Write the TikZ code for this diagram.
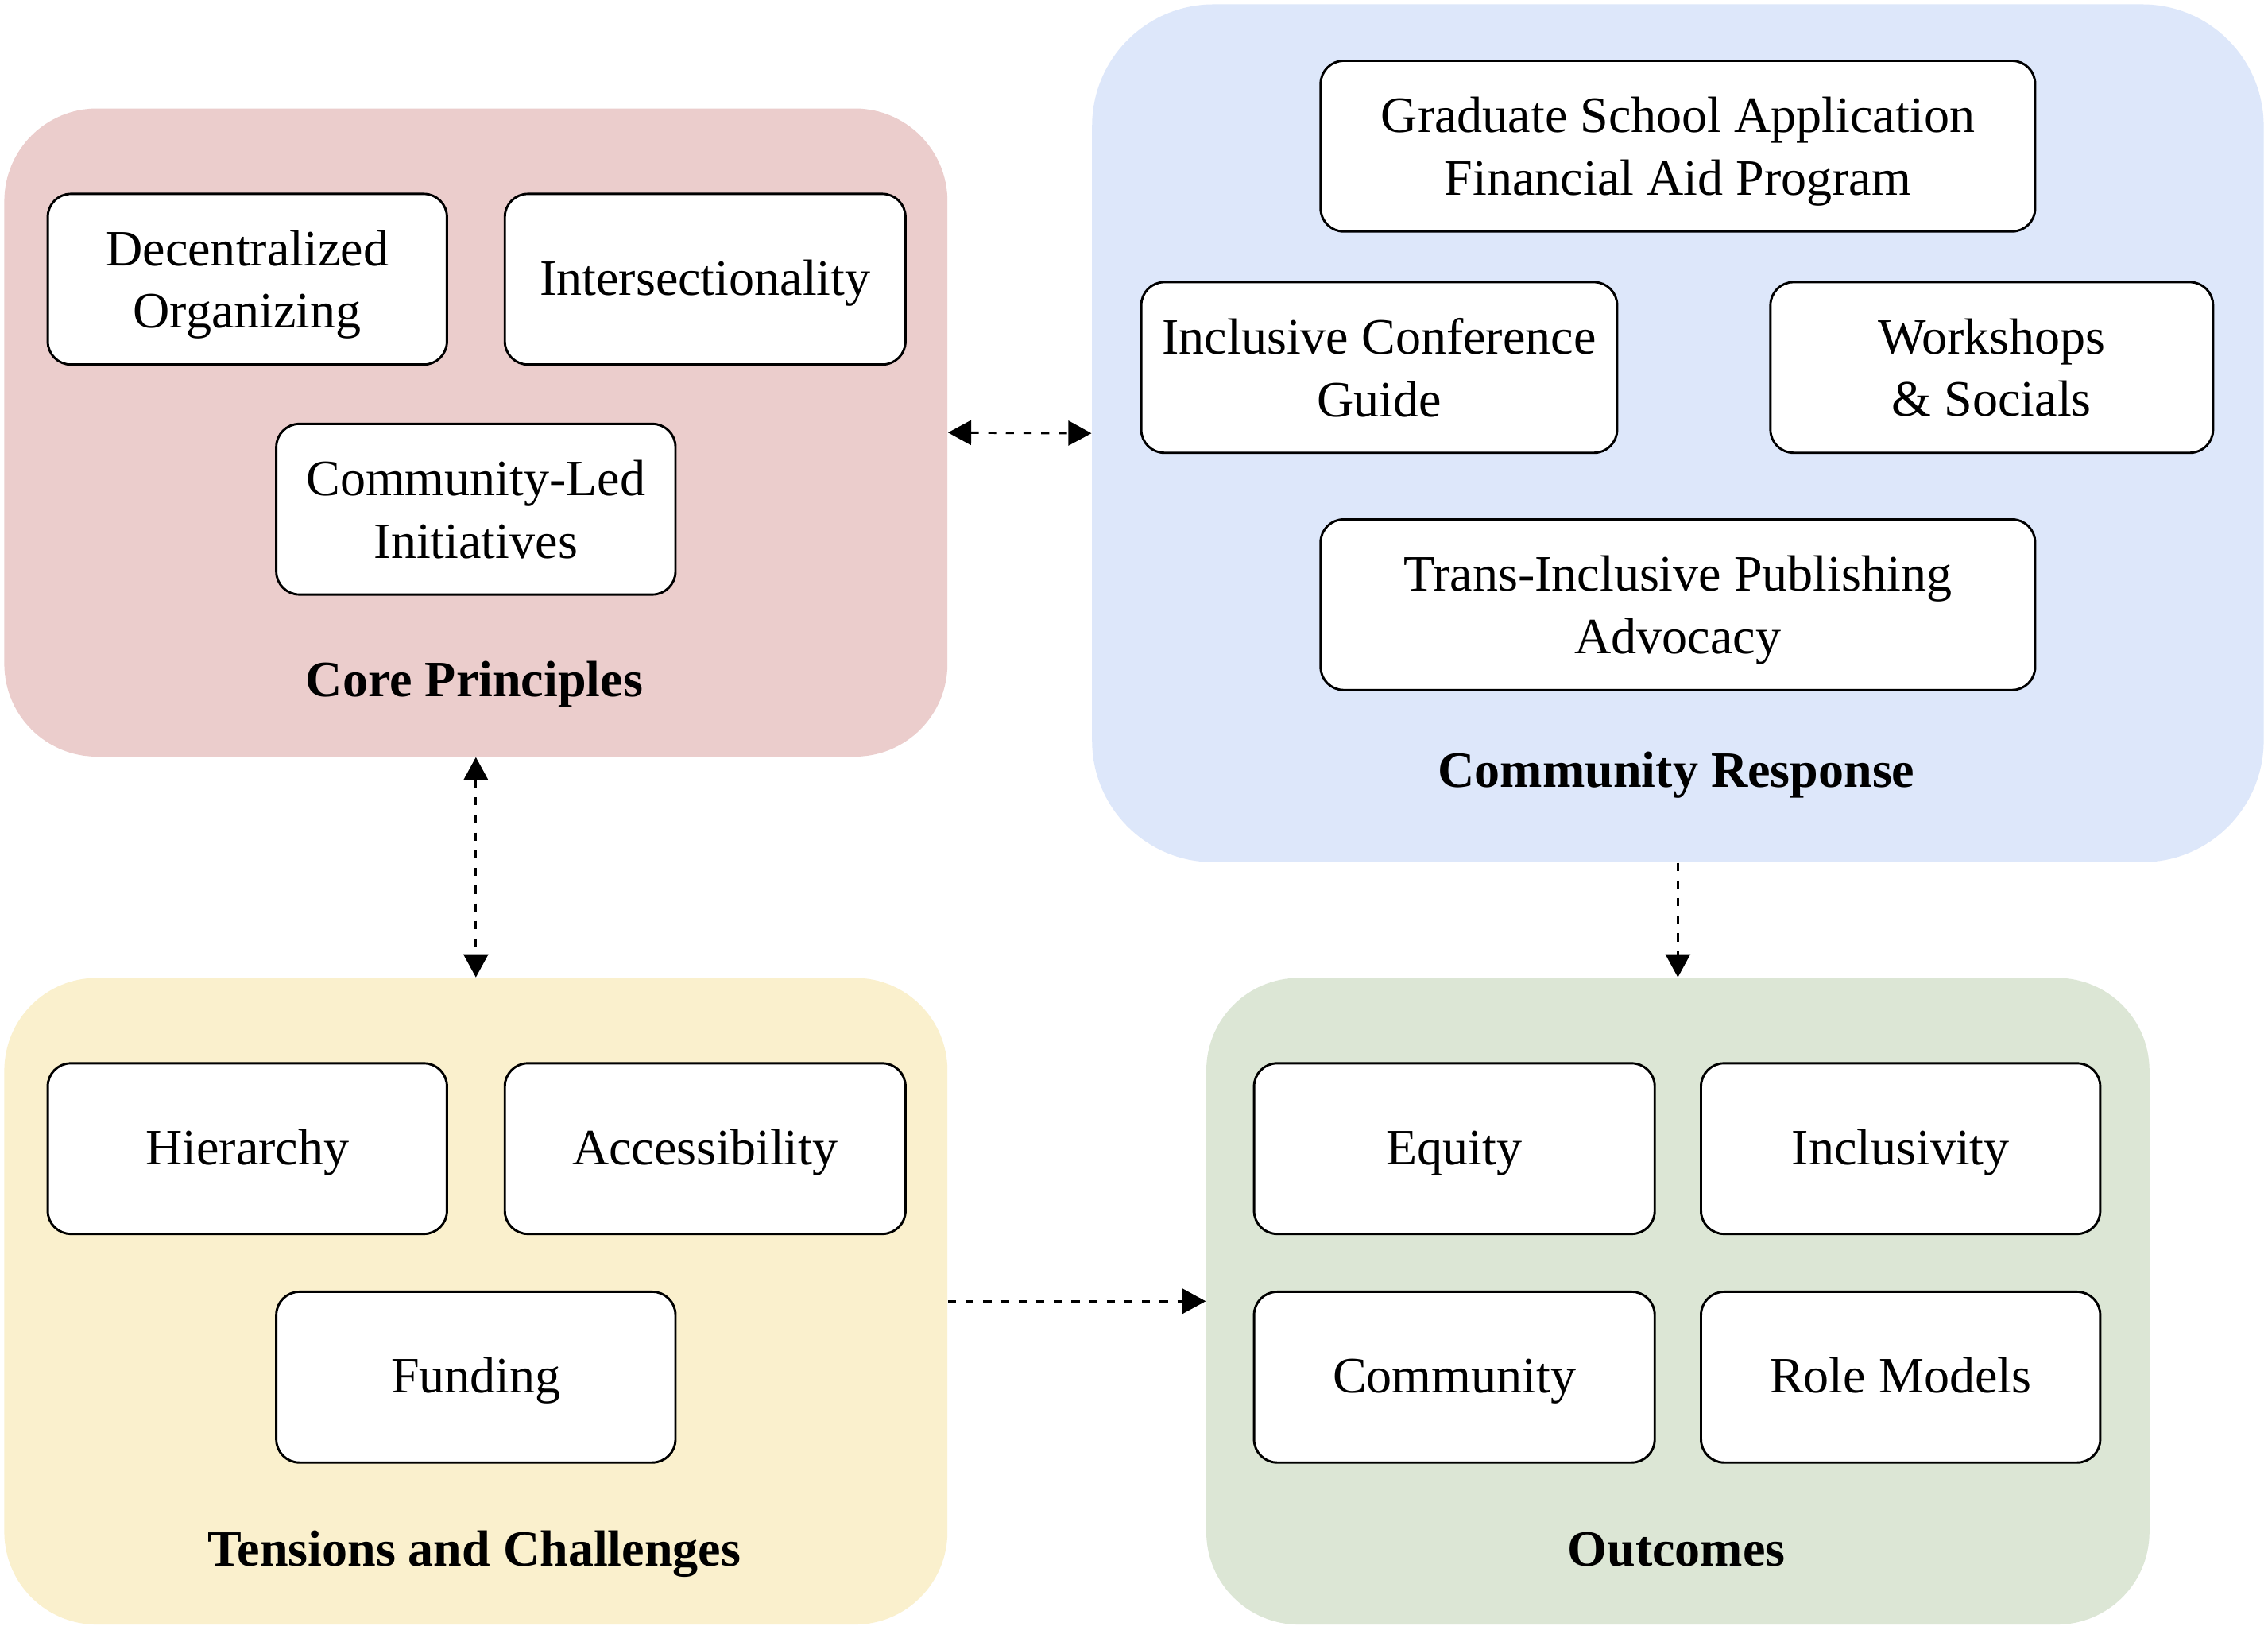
\documentclass[tikz,border=0pt]{standalone}
\usepackage{fontspec}
\setmainfont{Liberation Serif}
\usetikzlibrary{arrows.meta}
\definecolor{cpfill}{RGB}{235,205,204}
\definecolor{crfill}{RGB}{221,231,250}
\definecolor{tcfill}{RGB}{250,240,205}
\definecolor{oufill}{RGB}{220,230,213}
\newcommand{\linestrut}{\rule[-4pt]{0pt}{19pt}}
\newcommand{\depthstrut}{\rule[-4pt]{0pt}{4pt}}
\tikzset{
  group/.style={draw=none, rectangle, inner sep=0pt},
  item/.style={draw=black, fill=white, line width=0.8pt, rounded corners=8pt, minimum height=59pt, inner sep=0pt, align=center, font=\fontsize{17.6}{21.5}\selectfont, execute at begin node=\linestrut, execute at end node=\linestrut},
  twotext/.style={align=center, font=\fontsize{17.6}{21.5}\selectfont, inner sep=0pt, yshift=-2pt, execute at end node=\depthstrut},
  title/.style={font=\fontsize{17.6}{21.5}\selectfont\bfseries, inner sep=0pt, anchor=base},
  link/.style={dash pattern=on 2.8pt off 3.3pt, line width=0.8pt, -{Triangle[length=8pt,width=8.5pt]}},
  link2/.style={link, {Triangle[length=8pt,width=8.5pt]}-{Triangle[length=8pt,width=8.5pt]}}
}
\begin{document}
\begin{tikzpicture}[x=0.5pt,y=-0.5pt]
\useasboundingbox[fill=white] (0,0) rectangle (1568,1132);
% containers
\node[group, fill=cpfill, rounded corners=32pt, minimum width=326pt, minimum height=224pt] (cp) at (329,299) {};
\node[group, fill=crfill, rounded corners=42pt, minimum width=405pt, minimum height=296.5pt] (cr) at (1160,299.5) {};
\node[group, fill=tcfill, rounded corners=32pt, minimum width=326pt, minimum height=223.5pt] (tc) at (329,899.5) {};
\node[group, fill=oufill, rounded corners=32pt, minimum width=326pt, minimum height=223.5pt] (ou) at (1160,899.5) {};
% core principles
\node[item, minimum width=138pt, label={[twotext]center:Decentralized\\Organizing}] (dec) at (171,193) {};
\node[item, minimum width=138.5pt] (inter) at (487.5,193) {Intersectionality};
\node[item, minimum width=138pt, label={[twotext]center:Community-Led\\Initiatives}] (cli) at (329,352) {};
\node[title] (cpt) at (328,481.5) {Core Principles};
% community response
\node[item, minimum width=247pt, label={[twotext]center:Graduate School Application\\Financial Aid Program}] (grad) at (1160,101) {};
\node[item, minimum width=164.5pt, label={[twotext]center:Inclusive Conference\\Guide}] (icg) at (953.5,254) {};
\node[item, minimum width=153pt, label={[twotext]center:Workshops\\\&\ Socials}] (ws) at (1377,254) {};
\node[item, minimum width=247pt, label={[twotext]center:Trans-Inclusive Publishing\\Advocacy}] (tip) at (1160,418) {};
\node[title] (crt) at (1159,544.3) {Community Response};
% tensions
\node[item, minimum width=138pt] (hier) at (171,794) {Hierarchy};
\node[item, minimum width=138.5pt] (acc) at (487.5,794) {Accessibility};
\node[item, minimum width=138pt] (fund) at (329,952) {Funding};
\node[title] (tct) at (328,1082.5) {Tensions and Challenges};
% outcomes
\node[item, minimum width=138.5pt] (eq) at (1005.5,794) {Equity};
\node[item, minimum width=138pt] (incl) at (1314,794) {Inclusivity};
\node[item, minimum width=138.5pt] (comm) at (1005.5,952) {Community};
\node[item, minimum width=138pt] (rm) at (1314,952) {Role Models};
\node[title] (out) at (1159,1082.5) {Outcomes};
% connectors
\draw[link2] (cp.east) -- (cr.west);
\draw[link2] (cp.south) -- (tc.north);
\draw[link] (cr.south) -- (ou.north);
\draw[link] (tc.east) -- (ou.west);
\end{tikzpicture}
\end{document}
